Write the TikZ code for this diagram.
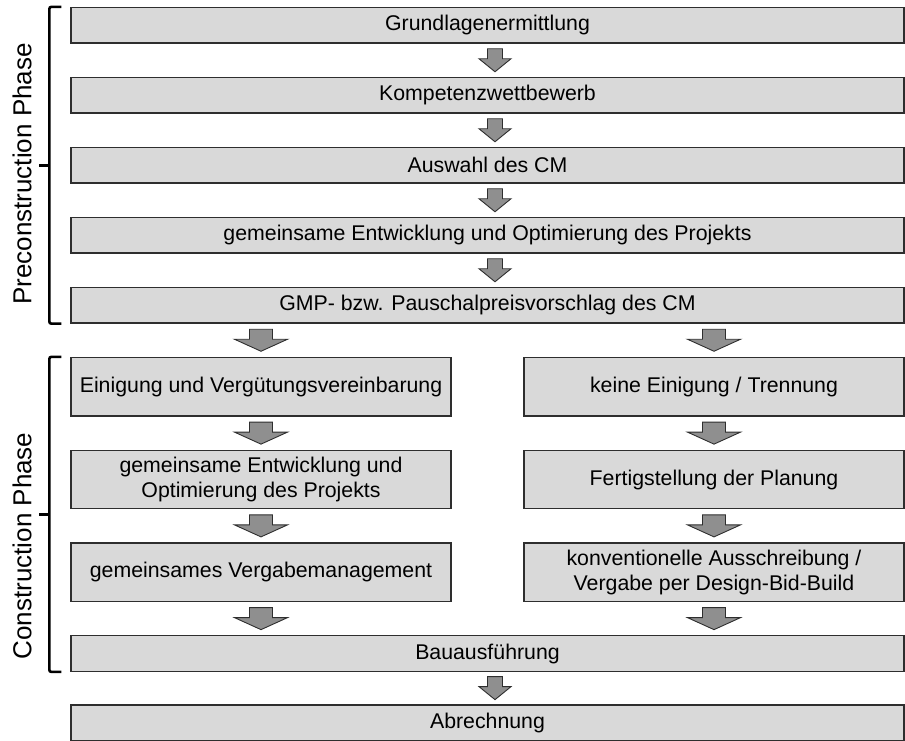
\documentclass[tikz,border=0pt]{standalone}
\usepackage{fontspec}
\setmainfont{Liberation Sans}
\usepackage{xcolor}
\usetikzlibrary{calc}
\definecolor{boxgray}{gray}{0.85}
\definecolor{arrowgray}{gray}{0.56}
\definecolor{linegray}{gray}{0.18}
\tikzset{wide/.style={draw=linegray,line width=1.3pt,fill=boxgray,
        minimum width=833pt,minimum height=35.5pt,inner sep=0pt,
        font=\fontsize{21.3}{25}\selectfont},
    half/.style={wide,minimum width=380pt,minimum height=58.5pt,align=center},
    phase/.style={rotate=90,inner sep=0pt,font=\fontsize{26}{30}\selectfont},
    brace/.style={line width=2.6pt,rounded corners=2pt},
    downarrow/.style={draw=linegray,fill=arrowgray,line width=0.9pt},
    pics/smalldown/.style={code={\draw[downarrow] (-7.5,-11.5) -- (7.5,-11.5)
        -- (7.5,-1.5) -- (16,-1.5) -- (0,11.5) -- (-16,-1.5) -- (-7.5,-1.5) -- cycle;}},
    pics/bigdown/.style={code={\draw[downarrow] (-11.5,-11) -- (11.5,-11)
        -- (11.5,-1) -- (26.5,-1) -- (0,11) -- (-26.5,-1) -- (-11.5,-1) -- cycle;}}}

\begin{document}
\begin{tikzpicture}[x=1pt,y=-1pt]
\useasboundingbox (0,0) rectangle (905,740);

\node[wide] (g1) at (487.5,25.25) {Grundlagenermittlung};
\node[wide] (g2) at (487.5,95.25) {Kompetenzwettbewerb};
\node[wide] (g3) at (487.5,165.25) {Auswahl des CM};
\node[wide] (g4) at (487.5,235.25) {gemeinsame Entwicklung und Optimierung des Projekts};
\node[wide] (g5) at (487.5,305.25) {GMP- bzw. Pauschalpreisvorschlag des CM};

\node[half] (l1) at (261,386.75) {Einigung und Vergütungsvereinbarung};
\node[half] (l2) at (261,479.5) {gemeinsame Entwicklung und\\Optimierung des Projekts};
\node[half] (l3) at (261,572.25) {gemeinsames Vergabemanagement};

\node[half] (r1) at (714,386.75) {keine Einigung / Trennung};
\node[half] (r2) at (714,479.5) {Fertigstellung der Planung};
\node[half] (r3) at (714,572.25) {konventionelle Ausschreibung /\\Vergabe per Design-Bid-Build};

\node[wide] (bau) at (487.5,653.5) {Bauausführung};
\node[wide] (abr) at (487.5,722.75) {Abrechnung};

% arrows
\foreach \a/\b in {g1/g2,g2/g3,g3/g4,g4/g5,bau/abr}
  \pic at ($([xshift=7.5pt]\a.south)!0.5!([xshift=7.5pt]\b.north)$) {smalldown};
\foreach \a/\b in {l1/l2,l2/l3,r1/r2,r2/r3}
  \pic at ($(\a.south)!0.5!(\b.north)$) {bigdown};
\pic at ($(g5.south -| l1.north)!0.5!(l1.north)$) {bigdown};
\pic at ($(g5.south -| r1.north)!0.5!(r1.north)$) {bigdown};
\pic at ($(l3.south)!0.5!(bau.north -| l3.south)$) {bigdown};
\pic at ($(r3.south)!0.5!(bau.north -| r3.south)$) {bigdown};

% phases
\draw[brace] ([xshift=-9pt]g1.north west) -| ([xshift=-21pt]g5.south west)
  -- ([xshift=-9pt]g5.south west);
\draw[brace] ($([xshift=-21pt]g1.north west)!0.5!([xshift=-21pt]g5.south west)$) -- ++(-10,0);
\draw[brace] ([xshift=-9pt]l1.north west) -| ([xshift=-21pt]bau.south west)
  -- ([xshift=-9pt]bau.south west);
\draw[brace] ($([xshift=-21pt]l1.north west)!0.5!([xshift=-21pt]bau.south west)$) -- ++(-10,0);

\node[phase] (pre) at (22,174) {Preconstruction Phase};
\node[phase] (con) at (22,546) {Construction Phase};
\end{tikzpicture}
\end{document}
